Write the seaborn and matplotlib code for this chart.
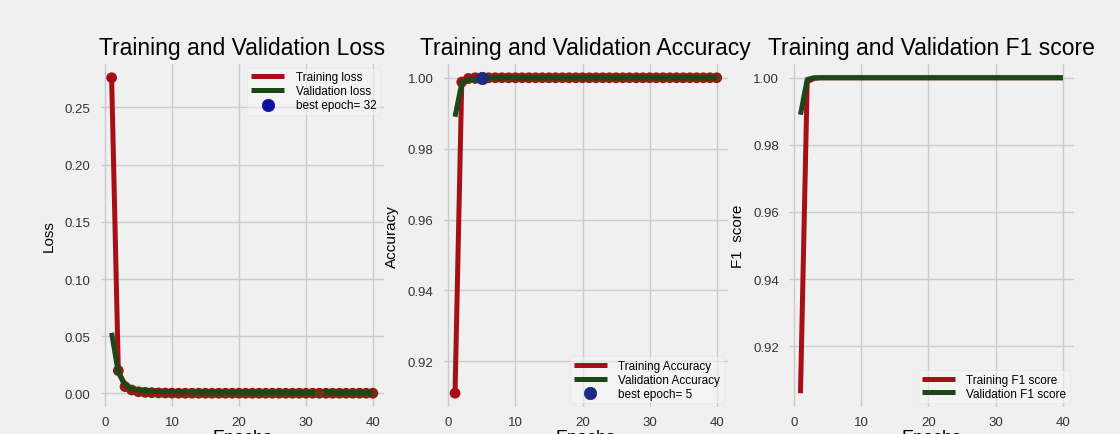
import numpy as np
import pandas as pd
import matplotlib
matplotlib.use("Agg")
import matplotlib.pyplot as plt
import seaborn as sns

epochs = list(range(1, 41))
train_loss = [0.276, 0.020, 0.006, 0.003, 0.0015, 0.001, 0.0007, 0.0005, 0.0004, 0.0003] + [0.0002] * 30
val_loss = [0.053, 0.018, 0.008, 0.004, 0.003, 0.0025, 0.002, 0.0018, 0.0016, 0.0015,
            0.0014, 0.0013, 0.0012, 0.0012, 0.0011, 0.0011, 0.0010, 0.0010, 0.0010, 0.0009,
            0.0009, 0.0009, 0.0008, 0.0008, 0.0008, 0.0008, 0.0007, 0.0007, 0.0007, 0.0007,
            0.0007, 0.0005, 0.0015, 0.0008, 0.0007, 0.0007, 0.0007, 0.0006, 0.0006, 0.0006]
train_acc = [0.911, 0.9988, 0.9998] + [1.0] * 37
val_acc = [0.989, 0.9985, 0.9995, 0.9995] + [1.0] * 36
train_f1 = [0.906, 0.9988, 0.9998] + [1.0] * 37
val_f1 = [0.989, 0.9995, 1.0] + [1.0] * 37
best_loss_epoch = 32
best_acc_epoch = 5

df = pd.DataFrame({"epoch": epochs, "tl": train_loss, "vl": val_loss,
                   "ta": train_acc, "va": val_acc, "tf": train_f1, "vf": val_f1})

plt.style.use("fivethirtyeight")
plt.rcParams["font.family"] = ["Liberation Sans", "DejaVu Sans"]
plt.rcParams["axes.titlesize"] = 16.5
plt.rcParams["xtick.labelsize"] = 9.5
plt.rcParams["ytick.labelsize"] = 9.5
plt.rcParams["xtick.color"] = "#333333"
plt.rcParams["ytick.color"] = "#333333"
plt.rcParams["axes.labelsize"] = 11
plt.rcParams["xtick.major.pad"] = 5
plt.rcParams["ytick.major.pad"] = 6

fig = plt.figure(figsize=(11.2, 4.35), dpi=100)
fig.patch.set_facecolor("#f0f0f0")

bottom, height = 0.0575, 0.7977
ax1 = fig.add_axes([0.088, bottom, 0.2566, height])
ax2 = fig.add_axes([0.3946, bottom, 0.257, height])
ax3 = fig.add_axes([0.703, bottom, 0.2576, height])

red = "#a50f15"
green = "#1c4716"
brown = "#6e3410"
lw = 3.6

# Loss
sns.lineplot(data=df, x="epoch", y="tl", color=red, lw=lw, label="Training loss", ax=ax1)
sns.scatterplot(data=df, x="epoch", y="tl", color=red, s=60, edgecolor="none", ax=ax1, legend=False)
sns.lineplot(data=df, x="epoch", y="vl", color=green, lw=lw, label="Validation loss", ax=ax1)
sns.scatterplot(data=df.iloc[1:], x="epoch", y="tl", color=brown, s=40, edgecolor="none", ax=ax1, legend=False)
ax1.scatter([best_loss_epoch], [val_loss[best_loss_epoch - 1]], s=40, c=brown, zorder=5)
ax1.scatter([], [], s=80, c="#1010a0", label=f"best epoch= {best_loss_epoch}")
ax1.set_title("Training and Validation Loss")
ax1.set_ylabel("Loss")
ax1.set_yticks([0.0, 0.05, 0.10, 0.15, 0.20, 0.25])

# Accuracy
sns.lineplot(data=df, x="epoch", y="ta", color=red, lw=lw, label="Training Accuracy", ax=ax2)
sns.scatterplot(data=df, x="epoch", y="ta", color=red, s=60, edgecolor="none", ax=ax2, legend=False)
sns.lineplot(data=df, x="epoch", y="va", color=green, lw=lw, label="Validation Accuracy", ax=ax2)
sns.scatterplot(data=df.iloc[2:], x="epoch", y="va", color=brown, s=40, edgecolor="none", ax=ax2, legend=False)
ax2.scatter([best_acc_epoch], [val_acc[best_acc_epoch - 1]], s=80, c="#1c2a80", label=f"best epoch= {best_acc_epoch}", zorder=5)
ax2.set_title("Training and Validation Accuracy")
ax2.set_ylabel("Accuracy")
ax2.set_yticks([0.92, 0.94, 0.96, 0.98, 1.00])

# F1
sns.lineplot(data=df, x="epoch", y="tf", color=red, lw=lw, label="Training F1 score", ax=ax3)
sns.lineplot(data=df, x="epoch", y="vf", color=green, lw=lw, label="Validation F1 score", ax=ax3)
ax3.set_title("Training and Validation F1 score")
ax3.set_ylabel("F1  score")
ax3.set_yticks([0.92, 0.94, 0.96, 0.98, 1.00])

for ax, loc in ((ax1, "upper right"), (ax2, "lower right"), (ax3, "lower right")):
    ax.set_facecolor("#f0f0f0")
    ax.set_xticks([0, 10, 20, 30, 40])
    ax.yaxis.set_major_formatter(matplotlib.ticker.FormatStrFormatter("%.2f"))
    ax.grid(True, color="#cbcbcb", lw=1)
    ax.set_xlabel("Epochs", fontsize=13, labelpad=0.5)
    ax.yaxis.labelpad = 6
    leg = ax.legend(loc=loc, fontsize=8.5, framealpha=0.5, handlelength=2.8,
                    handletextpad=1.0, labelspacing=0.15, borderpad=0.3)
    leg.get_frame().set_facecolor("#f7f7f7")
    leg.get_frame().set_edgecolor("#dddddd")

fig.savefig("out.png", dpi=100, facecolor=fig.get_facecolor())
